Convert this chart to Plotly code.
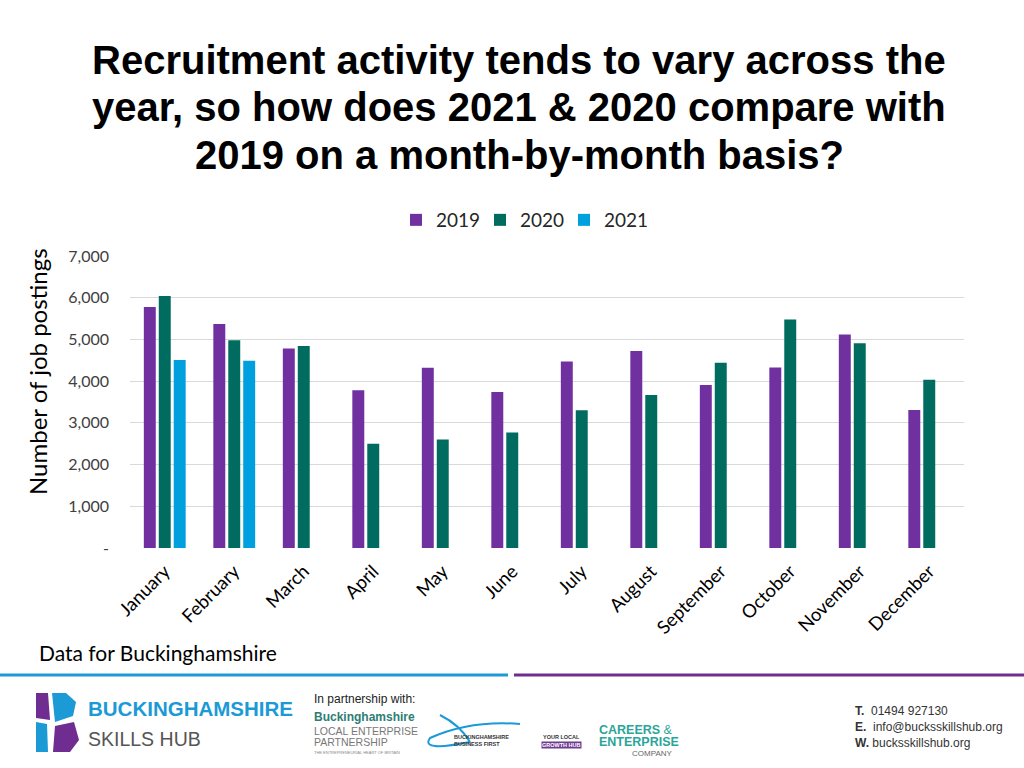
import plotly.graph_objects as go

months = ["January", "February", "March", "April", "May", "June", "July",
          "August", "September", "October", "November", "December"]
v2019 = [5780, 5370, 4780, 3780, 4320, 3740, 4470, 4720, 3910, 4330, 5120, 3310]
v2020 = [6040, 4980, 4840, 2500, 2600, 2770, 3300, 3670, 4440, 5480, 4910, 4035]
v2021 = [4505, 4490, None, None, None, None, None, None, None, None, None, None]
series_names = ["2019", "2020", "2021"]
y_tickvals = [0, 1000, 2000, 3000, 4000, 5000, 6000, 7000]
y_ticktext = ["-", "1,000", "2,000", "3,000", "4,000", "5,000", "6,000", "7,000"]

W, H = 1024, 768
L, R, T, B = 130, 60, 256, 220
PW, PH = W - L - R, H - T - B


def px(x):
    return (x - L) / PW


def py(y):
    return (H - B - y) / PH


colors = ["#7030A0", "#006B5F", "#00A0DF"]
BODY = "Lato, Carlito, 'Open Sans', sans-serif"
NARROW = "'Liberation Sans Narrow', 'Liberation Sans', Arial, sans-serif"

fig = go.Figure()
for name, vals, c in zip(series_names, [v2019, v2020, v2021], colors):
    fig.add_trace(go.Bar(x=months, y=vals, name=name, marker_color=c,
                         marker_line_width=0))

fig.update_layout(
    width=W, height=H,
    margin=dict(l=L, r=R, t=T, b=B),
    paper_bgcolor="white", plot_bgcolor="white",
    barmode="group", bargap=0.355, bargroupgap=0.2,
    font=dict(family=BODY, color="#262626"),
    showlegend=True,
    legend=dict(orientation="h", x=px(522), xanchor="center", y=py(220),
                yanchor="middle", font=dict(size=19, color="#262626", family=BODY),
                itemwidth=30, traceorder="normal",
                entrywidth=39, entrywidthmode="pixels"),
)
fig.update_xaxes(showgrid=False, tickangle=-45, showline=False, ticks="",
                 ticklabelstandoff=8,
                 tickfont=dict(size=18.5, color="#000000", family=BODY))
fig.update_yaxes(range=[0, 7000], tickvals=y_tickvals, ticktext=y_ticktext,
                 showgrid=True, gridcolor="#D9D9D9", gridwidth=1,
                 zeroline=False, showline=False, ticks="",
                 ticklabelstandoff=20,
                 tickfont=dict(size=16, color="#404040", family=BODY))


def txt(text, x, y, size, color, family=NARROW, xanchor="left", **kw):
    return dict(text=text, x=px(x), y=py(y), xref="paper", yref="paper",
                xanchor=xanchor, yanchor="middle", showarrow=False,
                font=dict(family=family, size=size, color=color), **kw)


ann = []
title_lines = ["Recruitment activity tends to vary across the",
               "year, so how does 2021 & 2020 compare with",
               "2019 on a month-by-month basis?"]
for line, yy in zip(title_lines, [60, 107, 155]):
    ann.append(txt("<b>%s</b>" % line, 519, yy, 40, "#000000",
                   family="'Liberation Sans', Arial, sans-serif", xanchor="center"))
ann.append(txt("Number of job postings", 37, 372, 24, "#000000", family=BODY,
               xanchor="center", textangle=-90))
ann.append(txt("Data for Buckinghamshire", 37, 652, 21, "#000000", family=BODY))

# footer
ann.append(txt("<b>BUCKINGHAMSHIRE</b>", 86, 708, 20.5, "#1C9AD6"))
ann.append(txt("SKILLS HUB", 86, 739, 19.5, "#555555"))
ann.append(txt("In partnership with:", 312, 699, 12, "#222222"))
ann.append(txt("<b>Buckinghamshire</b>", 312, 717, 12, "#2E7D74"))
ann.append(txt("LOCAL ENTERPRISE", 312, 731, 10.5, "#777777"))
ann.append(txt("PARTNERSHIP", 312, 742, 10.5, "#777777"))
ann.append(txt("THE ENTREPRENEURIAL HEART OF BRITAIN", 312, 752, 4, "#888888"))
ann.append(txt("<b>BUCKINGHAMSHIRE</b>", 452, 737, 5.5, "#333333"))
ann.append(txt("<b>BUSINESS FIRST</b>", 452, 744, 5.5, "#333333"))
ann.append(txt("<b>YOUR LOCAL</b>", 561, 737, 5.5, "#333333", xanchor="center"))
ann.append(txt("<b>GROWTH HUB</b>", 561, 745, 5.5, "#FFFFFF", xanchor="center",
               bgcolor="#6F3C8F", borderpad=0))
ann.append(txt("<b>CAREERS</b> &amp;", 597, 730, 12.5, "#2AA59A"))
ann.append(txt("<b>ENTERPRISE</b>", 597, 742, 12.5, "#2AA59A"))
ann.append(txt("COMPANY", 675, 753, 8, "#666666", xanchor="right"))
ann.append(txt("<b>T.</b>  01494 927130", 853, 711, 12, "#333333"))
ann.append(txt("<b>E.</b>  info@bucksskillshub.org", 853, 727, 12, "#333333"))
ann.append(txt("<b>W.</b> bucksskillshub.org", 853, 743, 12, "#333333"))
fig.update_layout(annotations=ann)

shapes = []
shapes.append(dict(type="line", xref="paper", yref="paper", x0=px(0), x1=px(508), y0=py(675), y1=py(675),
                   line=dict(color="#1C9AD6", width=3)))
shapes.append(dict(type="line", xref="paper", yref="paper", x0=px(514), x1=px(1024), y0=py(675), y1=py(675),
                   line=dict(color="#6F2C91", width=3)))


def poly(points, color):
    d = "M " + " L ".join("%f,%f" % (px(a), py(b)) for a, b in points) + " Z"
    return dict(type="path", xref="paper", yref="paper", path=d, fillcolor=color, line=dict(width=0))


shapes.append(poly([(36, 693), (48, 693), (50, 720), (36, 718)], "#6F2C91"))
shapes.append(poly([(36, 722), (47, 724), (48, 752), (36, 752)], "#1C9AD6"))
shapes.append(poly([(52, 693), (66, 693), (76, 702), (73, 716), (55, 722)], "#1C9AD6"))
shapes.append(poly([(55, 726), (74, 722), (79, 740), (70, 752), (53, 752)], "#6F2C91"))
shapes.append(dict(type="path", xref="paper", yref="paper",
                   path="M %f,%f Q %f,%f %f,%f Q %f,%f %f,%f" % (
                       px(520), py(724), px(470), py(720), px(430), py(738),
                       px(420), py(752), px(470), py(742)),
                   line=dict(color="#1C9AD6", width=2)))
shapes.append(dict(type="path", xref="paper", yref="paper",
                   path="M %f,%f Q %f,%f %f,%f" % (px(470), py(742), px(460), py(725), px(440), py(715)),
                   line=dict(color="#1C9AD6", width=2)))
fig.update_layout(shapes=shapes)

fig.write_html("out.html", config={"displayModeBar": False},
               post_script="document.body.style.margin='0px';")
